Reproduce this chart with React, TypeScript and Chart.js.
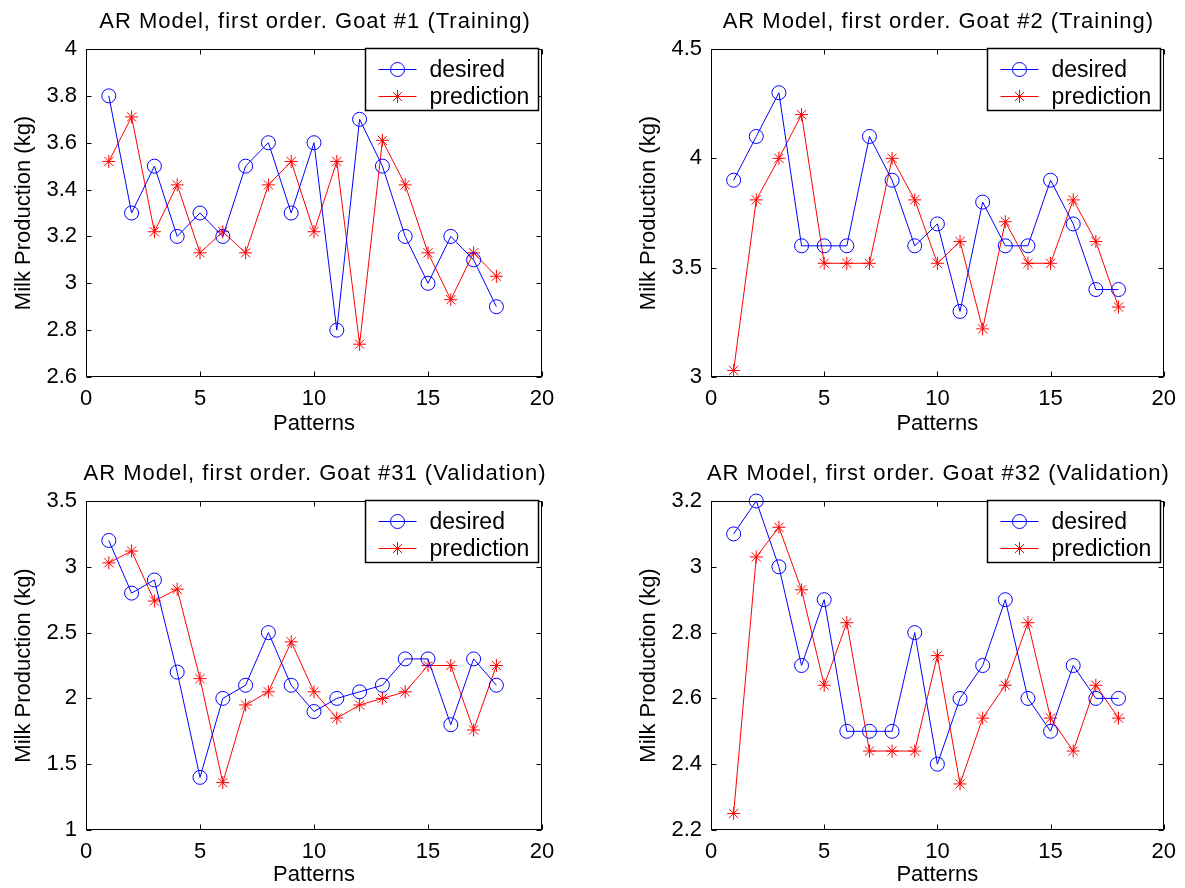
import React, { useEffect, useRef } from 'react';
import { Chart, registerables } from 'chart.js';

Chart.register(...registerables);

const FONT = '"Liberation Sans", Arial, Helvetica, sans-serif';
Chart.defaults.font.family = FONT;
Chart.defaults.color = '#000';

// ---------- data ----------
const patterns = [1, 2, 3, 4, 5, 6, 7, 8, 9, 10, 11, 12, 13, 14, 15, 16, 17, 18];
const xRange = [0, 20, 5];
const seriesLabels = ['desired', 'prediction'];

const goat1Desired = [3.8, 3.3, 3.5, 3.2, 3.3, 3.2, 3.5, 3.6, 3.3, 3.6, 2.8, 3.7, 3.5, 3.2, 3.0, 3.2, 3.1, 2.9];
const goat1Prediction = [3.52, 3.71, 3.22, 3.42, 3.13, 3.22, 3.13, 3.42, 3.52, 3.22, 3.52, 2.74, 3.61, 3.42, 3.13, 2.93, 3.13, 3.03];
const goat1YRange = [2.6, 4, 0.2];

const goat2Desired = [3.9, 4.1, 4.3, 3.6, 3.6, 3.6, 4.1, 3.9, 3.6, 3.7, 3.3, 3.8, 3.6, 3.6, 3.9, 3.7, 3.4, 3.4];
const goat2Prediction = [3.03, 3.81, 4.0, 4.2, 3.52, 3.52, 3.52, 4.0, 3.81, 3.52, 3.62, 3.22, 3.71, 3.52, 3.52, 3.81, 3.62, 3.32];
const goat2YRange = [3, 4.5, 0.5];

const goat31Desired = [3.2, 2.8, 2.9, 2.2, 1.4, 2.0, 2.1, 2.5, 2.1, 1.9, 2.0, 2.05, 2.1, 2.3, 2.3, 1.8, 2.3, 2.1];
const goat31Prediction = [3.03, 3.12, 2.74, 2.83, 2.15, 1.36, 1.95, 2.05, 2.43, 2.05, 1.85, 1.95, 2.0, 2.05, 2.25, 2.25, 1.76, 2.25];
const goat31YRange = [1, 3.5, 0.5];

const goat32Desired = [3.1, 3.2, 3.0, 2.7, 2.9, 2.5, 2.5, 2.5, 2.8, 2.4, 2.6, 2.7, 2.9, 2.6, 2.5, 2.7, 2.6, 2.6];
const goat32Prediction = [2.25, 3.03, 3.12, 2.93, 2.64, 2.83, 2.44, 2.44, 2.44, 2.73, 2.34, 2.54, 2.64, 2.83, 2.54, 2.44, 2.64, 2.54];
const goat32YRange = [2.2, 3.2, 0.2];

const titles = [
  'AR Model, first order. Goat #1 (Training)',
  'AR Model, first order. Goat #2 (Training)',
  'AR Model, first order. Goat #31 (Validation)',
  'AR Model, first order. Goat #32 (Validation)',
];
const xTitle = 'Patterns';
const yTitle = 'Milk Production (kg)';

// ---------- layout (not data) ----------
const BLUE = '#0000ff';
const RED = '#ff0000';
const TICK_FONT = 22;
const AXIS_TITLE_FONT = 22;
const LH = 1.2;

const panels = [
  { title: titles[0], desired: goat1Desired, prediction: goat1Prediction, yRange: goat1YRange,
    box: { x: 0, y: 0, w: 592, h: 444 }, area: { l: 86, t: 49, r: 542, b: 377 }, xtOff: 47 },
  { title: titles[1], desired: goat2Desired, prediction: goat2Prediction, yRange: goat2YRange,
    box: { x: 592, y: 0, w: 593, h: 444 }, area: { l: 711, t: 49, r: 1165, b: 377 }, xtOff: 47 },
  { title: titles[2], desired: goat31Desired, prediction: goat31Prediction, yRange: goat31YRange,
    box: { x: 0, y: 444, w: 592, h: 444 }, area: { l: 86, t: 501, r: 542, b: 830 }, xtOff: 45 },
  { title: titles[3], desired: goat32Desired, prediction: goat32Prediction, yRange: goat32YRange,
    box: { x: 592, y: 444, w: 593, h: 444 }, area: { l: 711, t: 501, r: 1165, b: 830 }, xtOff: 45 },
];

function drawMarker(ctx: CanvasRenderingContext2D, kind: string, x: number, y: number, r: number) {
  ctx.beginPath();
  if (kind === 'circle') {
    ctx.arc(x, y, r, 0, Math.PI * 2);
  } else {
    const d = r * Math.SQRT1_2;
    ctx.moveTo(x - r, y); ctx.lineTo(x + r, y);
    ctx.moveTo(x, y - r); ctx.lineTo(x, y + r);
    ctx.moveTo(x - d, y - d); ctx.lineTo(x + d, y + d);
    ctx.moveTo(x - d, y + d); ctx.lineTo(x + d, y - d);
  }
  ctx.stroke();
}

const decorPlugin = {
  id: 'panelDecor',
  beforeDatasetsDraw(chart: any) {
    const { ctx, chartArea: a, scales } = chart;
    ctx.save();
    ctx.strokeStyle = '#000';
    ctx.lineWidth = 1;
    const L = Math.round(a.left) + 0.5;
    const R = Math.round(a.right) - 0.5;
    const T = Math.round(a.top) + 0.5;
    const B = Math.round(a.bottom) - 0.5;
    ctx.beginPath();
    const tl = 5;
    scales.x.ticks.forEach((t: any) => {
      const px = Math.round(scales.x.getPixelForValue(t.value)) + 0.5;
      ctx.moveTo(px, B); ctx.lineTo(px, B - tl);
      ctx.moveTo(px, T); ctx.lineTo(px, T + tl);
    });
    scales.y.ticks.forEach((t: any) => {
      const py = Math.round(scales.y.getPixelForValue(t.value)) + 0.5;
      ctx.moveTo(L, py); ctx.lineTo(L + tl, py);
      ctx.moveTo(R, py); ctx.lineTo(R - tl, py);
    });
    ctx.stroke();
    ctx.strokeRect(L, T, R - L, B - T);
    ctx.restore();
  },
  afterDraw(chart: any, _args: any, opts: any) {
    const { ctx, chartArea: a } = chart;
    ctx.save();
    // title
    ctx.fillStyle = '#000';
    ctx.font = `22px ${FONT}`;
    try { (ctx as any).letterSpacing = '1px'; } catch (e) { /* ignore */ }
    ctx.textAlign = 'center';
    ctx.textBaseline = 'alphabetic';
    ctx.fillText(opts.title, (a.left + a.right) / 2 + 1, a.top - 21);
    try { (ctx as any).letterSpacing = '0px'; } catch (e) { /* ignore */ }
    // legend
    const w = 173, h = 62;
    const lx = Math.round(a.right) - 4 - w + 0.5;
    const ly = Math.round(a.top) - 0.5;
    ctx.fillStyle = '#fff';
    ctx.fillRect(lx, ly, w, h);
    ctx.strokeStyle = '#000';
    ctx.lineWidth = 1.5;
    ctx.strokeRect(lx, ly, w, h);
    const rows = [
      { label: seriesLabels[0], color: BLUE, marker: 'circle', r: 7 },
      { label: seriesLabels[1], color: RED, marker: 'star', r: 6.5 },
    ];
    ctx.font = `23px ${FONT}`;
    ctx.textAlign = 'left';
    ctx.textBaseline = 'middle';
    rows.forEach((row, i) => {
      const y = Math.round(ly + 20 + i * 27) + 0.5;
      ctx.strokeStyle = row.color;
      ctx.lineWidth = 1;
      ctx.beginPath();
      ctx.moveTo(lx + 13, y); ctx.lineTo(lx + 51, y);
      ctx.stroke();
      drawMarker(ctx, row.marker, lx + 32, y, row.r);
      ctx.fillStyle = '#000';
      ctx.fillText(row.label, lx + 64, y + 1);
    });
    ctx.restore();
  },
};

function Panel({ p }: { p: any }) {
  const ref = useRef<HTMLCanvasElement | null>(null);
  useEffect(() => {
    if (!ref.current) return;
    const { box, area } = p;
    const [ymin, ymax, ystep] = p.yRange;
    const [xmin, xmax, xstep] = xRange;
    const half = (AXIS_TITLE_FONT * LH) / 2;
    const yTitleCenter = area.l - 62 - box.x; // relative to canvas
    const xTitleCenter = area.b + p.xtOff - box.y;
    const chart = new Chart(ref.current, {
      type: 'line',
      data: {
        datasets: [
          {
            label: seriesLabels[0],
            data: patterns.map((x, i) => ({ x, y: p.desired[i] })),
            borderColor: BLUE,
            backgroundColor: 'transparent',
            borderWidth: 1,
            pointStyle: 'circle',
            pointRadius: 7,
            pointBorderColor: BLUE,
            pointBackgroundColor: 'transparent',
            pointBorderWidth: 1,
            tension: 0,
            fill: false,
            clip: false as any,
          },
          {
            label: seriesLabels[1],
            data: patterns.map((x, i) => ({ x, y: p.prediction[i] })),
            borderColor: RED,
            backgroundColor: 'transparent',
            borderWidth: 1,
            pointStyle: 'star',
            pointRadius: 6.5,
            pointBorderColor: RED,
            pointBackgroundColor: 'transparent',
            pointBorderWidth: 1,
            tension: 0,
            fill: false,
            clip: false as any,
          },
        ],
      },
      options: {
        animation: false,
        responsive: true,
        maintainAspectRatio: false,
        events: [],
        layout: {
          padding: { left: 0, top: area.t - box.y, right: box.x + box.w - area.r, bottom: 0 },
        },
        plugins: {
          legend: { display: false },
          title: { display: false },
          tooltip: { enabled: false },
          panelDecor: { title: p.title },
        } as any,
        scales: {
          x: {
            type: 'linear',
            min: xmin,
            max: xmax,
            ticks: { stepSize: xstep, padding: 9, color: '#000', font: { size: TICK_FONT }, maxRotation: 0 },
            grid: { display: false, drawTicks: false },
            border: { display: false },
            title: {
              display: true, text: xTitle, color: '#000', font: { size: AXIS_TITLE_FONT, lineHeight: LH },
              padding: { top: 0, bottom: box.h - xTitleCenter - half },
            },
            afterFit: (s: any) => { s.height = box.y + box.h - area.b; },
          },
          y: {
            type: 'linear',
            min: ymin,
            max: ymax,
            ticks: {
              stepSize: ystep, padding: 9, color: '#000', font: { size: TICK_FONT },
              callback: (v: any) => String(Number(Number(v).toFixed(2))),
            },
            grid: { display: false, drawTicks: false },
            border: { display: false },
            title: {
              display: true, text: yTitle, color: '#000', font: { size: AXIS_TITLE_FONT, lineHeight: LH },
              padding: { top: yTitleCenter - half, bottom: 0 },
            },
            afterFit: (s: any) => { s.width = area.l - box.x; },
          },
        },
      },
      plugins: [decorPlugin as any],
    });
    return () => chart.destroy();
  }, [p]);
  const { box } = p;
  return (
    <div style={{ position: 'absolute', left: box.x, top: box.y, width: box.w, height: box.h }}>
      <canvas ref={ref} />
    </div>
  );
}

export default function App() {
  return (
    <div style={{ position: 'absolute', left: 0, top: 0, width: 1185, height: 888, background: '#fff', overflow: 'hidden' }}>
      {panels.map((p, i) => <Panel key={i} p={p} />)}
    </div>
  );
}
